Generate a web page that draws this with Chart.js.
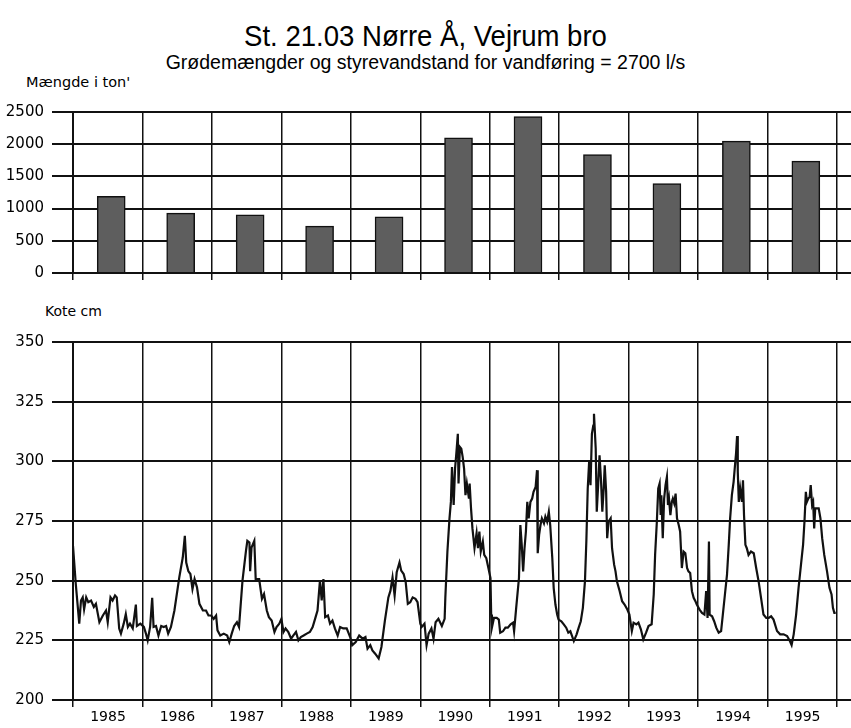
<!DOCTYPE html>
<html>
<head>
<meta charset="utf-8">
<script src="https://cdn.jsdelivr.net/npm/chart.js@4.4.1/dist/chart.umd.min.js"></script>
<style>
  body { margin: 0; background: #fff; width: 851px; height: 728px; position: relative; overflow: hidden; font-family: "Liberation Sans", Arial, sans-serif; color: #000; }
  .txt { position: absolute; white-space: nowrap; }
  #titel { top: 20px; left: 0; width: 851px; text-align: center; font-size: 29px; transform: scaleX(0.95); }
  #undertitel { top: 51px; left: 0; width: 851px; text-align: center; font-size: 19.5px; }
  #enhedTon { top: 74px; left: 26px; font: 14.5px "DejaVu Sans", sans-serif; }
  #enhedKote { top: 303px; left: 45px; font: 14px "DejaVu Sans", sans-serif; }
  canvas { position: absolute; left: 0; }
  #groede { top: 95px; }
  #kote { top: 325px; }
</style>
</head>
<body>
<div class="txt" id="titel">St. 21.03 Nørre Å, Vejrum bro</div>
<div class="txt" id="undertitel">Grødemængder og styrevandstand for vandføring = 2700 l/s</div>
<div class="txt" id="enhedTon">Mængde i ton'</div>
<div class="txt" id="enhedKote">Kote cm</div>
<canvas id="groede" width="851" height="195"></canvas>
<canvas id="kote" width="851" height="403"></canvas>
<script>
// --- DATA ---
const aar = [1985, 1986, 1987, 1988, 1989, 1990, 1991, 1992, 1993, 1994, 1995];
const groedeTon = [1190, 930, 905, 727, 873, 2099, 2429, 1840, 1387, 2048, 1738];
const tonTicks = [0, 500, 1000, 1500, 2000, 2500];
const koteTicks = [200, 225, 250, 275, 300, 325, 350];

// styrevandstand, aflæst fra kurven (decimal år / kote cm)
const koteAar = [
  1985.00,1985.04,1985.09,1985.115,1985.14,1985.16,1985.19,1985.22,1985.26,1985.30,1985.33,1985.38,1985.43,1985.475,1985.50,1985.54,1985.57,1985.605,1985.63,1985.665,1985.69,1985.73,1985.76,1985.79,1985.82,1985.86,1985.905,1985.92,1985.97,
  1986.02,1986.05,1986.075,1986.11,1986.14,1986.16,1986.195,1986.23,1986.27,1986.305,1986.34,1986.37,1986.41,1986.46,1986.53,1986.58,1986.61,1986.63,1986.66,1986.69,1986.72,1986.75,1986.785,1986.82,1986.87,1986.915,1986.95,1986.99,
  1987.025,1987.06,1987.08,1987.12,1987.17,1987.22,1987.25,1987.285,1987.32,1987.36,1987.39,1987.44,1987.49,1987.51,1987.54,1987.55,1987.57,1987.61,1987.63,1987.68,1987.72,1987.75,1987.79,1987.82,1987.86,1987.90,1987.93,1987.97,
  1988.00,1988.03,1988.06,1988.10,1988.14,1988.17,1988.21,1988.245,1988.28,1988.32,1988.365,1988.41,1988.45,1988.485,1988.52,1988.555,1988.58,1988.605,1988.63,1988.67,1988.70,1988.735,1988.77,1988.81,1988.845,1988.89,1988.94,1988.99,
  1989.02,1989.07,1989.12,1989.17,1989.21,1989.24,1989.28,1989.31,1989.35,1989.40,1989.44,1989.49,1989.54,1989.57,1989.60,1989.63,1989.66,1989.70,1989.725,1989.76,1989.79,1989.82,1989.855,1989.89,1989.93,1989.96,
  1990.00,1990.02,1990.06,1990.09,1990.12,1990.16,1990.19,1990.22,1990.26,1990.31,1990.35,1990.36,1990.39,1990.42,1990.44,1990.456,1990.48,1990.50,1990.52,1990.54,1990.55,1990.57,1990.59,1990.61,1990.63,1990.65,1990.67,1990.70,1990.71,1990.73,1990.75,1990.78,1990.81,1990.83,1990.85,1990.87,1990.90,1990.92,1990.95,1990.98,
  1991.01,1991.02,1991.03,1991.06,1991.10,1991.13,1991.15,1991.19,1991.225,1991.26,1991.30,1991.335,1991.35,1991.38,1991.42,1991.44,1991.46,1991.48,1991.50,1991.52,1991.54,1991.56,1991.585,1991.61,1991.63,1991.66,1991.68,1991.69,1991.71,1991.73,1991.75,1991.78,1991.80,1991.825,1991.85,1991.87,1991.90,1991.92,1991.945,1991.97,1991.99,
  1992.03,1992.065,1992.10,1992.13,1992.16,1992.21,1992.25,1992.28,1992.31,1992.34,1992.37,1992.39,1992.41,1992.43,1992.45,1992.47,1992.49,1992.50,1992.525,1992.54,1992.56,1992.58,1992.60,1992.62,1992.64,1992.655,1992.675,1992.69,1992.71,1992.74,1992.76,1992.79,1992.81,1992.83,1992.87,1992.905,1992.94,1992.98,
  1993.01,1993.045,1993.07,1993.11,1993.14,1993.175,1993.21,1993.25,1993.285,1993.33,1993.36,1993.38,1993.405,1993.425,1993.445,1993.46,1993.47,1993.49,1993.51,1993.53,1993.55,1993.565,1993.58,1993.60,1993.62,1993.635,1993.655,1993.675,1993.695,1993.72,1993.74,1993.765,1993.79,1993.815,1993.84,1993.86,1993.885,1993.91,1993.935,1993.96,1993.98,
  1994.02,1994.055,1994.09,1994.115,1994.135,1994.155,1994.165,1994.20,1994.23,1994.26,1994.295,1994.33,1994.355,1994.385,1994.415,1994.44,1994.46,1994.485,1994.51,1994.53,1994.545,1994.56,1994.57,1994.585,1994.605,1994.63,1994.645,1994.66,1994.68,1994.70,1994.725,1994.76,1994.80,1994.835,1994.87,1994.905,1994.94,1994.98,
  1995.015,1995.05,1995.085,1995.135,1995.18,1995.23,1995.28,1995.32,1995.345,1995.375,1995.41,1995.445,1995.48,1995.51,1995.53,1995.55,1995.565,1995.585,1995.605,1995.62,1995.64,1995.655,1995.67,1995.685,1995.71,1995.735,1995.76,1995.785,1995.815,1995.855,1995.89,1995.92,1995.94,1995.96,1995.98
];
const koteCm = [
  264.6,248.6,232,241.7,243,238,243,241,241.7,239,240.3,232.6,235.4,237.5,232.6,243,241.7,243.8,243,229.9,227.8,232,236,230.6,232,230,240,231,232,
  230.6,227.8,225,230.6,242.8,230.6,231,227,231,230.6,231,227.8,230.6,237.5,251.4,259.7,268.8,257.6,254,252.8,246.5,250.7,247.2,240.3,237.5,237.5,235.4,235.4,
  234,235.4,229.2,227,227.8,227,224.3,227.8,231,232.6,230.6,250,262.5,266.7,266,254,263.9,266.7,250.7,250.7,242.4,244.4,237.5,234.7,233.3,228.5,230.6,232,
  234,228.5,230,228.5,225.7,227,228.5,225,226.4,227,227.8,228.5,230.6,234,237.5,250,241.7,250.7,234.7,235.4,232,233.3,230,227,230.6,230,230,226.4,
  223,224.3,227,225.7,226.4,221.5,223,220.8,219.4,217.4,222.2,233.3,243,245.8,251.4,243.8,253.5,257.6,254.2,252.8,249.3,240.3,241,243,242.4,241,
  232,230.6,232,223,227.8,230,225.7,232.6,234,231,234,242.8,262.2,276.1,283,297.6,281.7,297,303.9,311.5,290.7,306,305.3,301.8,297,285.8,290.7,284.4,290.7,280.3,272,263.6,269.9,263.6,270.6,262.2,266.4,260.8,259.4,255.3,
  251.1,235.8,230.3,234.4,234.4,233.7,228.2,228.8,230.3,230.3,231.7,232.4,228.8,238.6,251.1,273.3,265,253.9,263.6,270.6,283,276.1,283,284.4,287.2,289.3,296.3,261.5,269.2,273.3,276.1,274,276.8,274.7,278.9,273.3,259.4,246.9,240,235.8,233.7,
  233,231.7,230.3,228.2,228.8,224.7,227.5,230.3,233,238.6,249.7,266.4,288.6,299.7,290,311.5,315,319.9,305.3,278.9,290,302.5,292.8,278.9,288.6,298.3,287.2,267.8,274.7,276.1,263.6,256.7,253.9,249.7,245.6,241.4,240,237.9,
  235.8,228.9,232.4,231.7,232.4,229.6,225.4,228.2,231,231.7,244.2,260.8,274.7,288.6,290.7,277.5,285.8,267.8,284.4,290,293.5,281.7,284.4,277.5,283,284.4,282.4,286.5,276.1,273.3,270.6,255.3,262.2,261.5,255.3,253.9,253.2,245.6,242.8,241.4,240,
  237.9,236.5,235.8,245.6,234.4,266.4,235.8,235.1,233,230.3,228.2,228.9,235.8,244.2,252.5,265,276.1,285.8,291.4,298.3,303.2,310.6,295.6,283,288.6,283,292.1,277.5,265,263.6,260.8,262.2,261.5,255.3,249.7,242.8,235.8,234.4,
  234.4,235.1,233.7,228.9,227.5,227.5,226.8,224.7,223,227.5,235.8,247,256.7,265,274.7,287.2,283,284.4,285.1,290,281.7,283,271.9,280.3,280.3,280.3,276.1,267.8,260.8,253.9,247,244.2,238.6,236.5,236.5
];

// --- FÆLLES OPSÆTNING ---
Chart.defaults.font.family = '"DejaVu Sans", sans-serif';
Chart.defaults.font.size = 15;
Chart.defaults.color = '#000';
Chart.defaults.animation = false;

const foersteAar = aar[0];
const sidsteGraense = aar[aar.length - 1] + 1;
const aarGraenser = aar.concat([sidsteGraense]);
const LINJE = '#111';

function xAkse(visLabels, hoejde) {
  return {
    type: 'linear',
    offset: false,
    min: foersteAar,
    max: sidsteGraense + 0.2,   // vandrette linjer fortsætter til højre kant
    afterBuildTicks: s => { s.ticks = aarGraenser.map(v => ({ value: v })); },
    afterFit: s => { s.height = hoejde; },
    grid: { offset: false, color: LINJE, lineWidth: 1.5, tickLength: 7, tickColor: LINJE },
    border: { color: LINJE, width: 2 },
    ticks: {
      display: visLabels,
      font: { size: 14 },
      padding: 2,
      maxRotation: 0,
      autoSkip: false,
      labelOffset: 35,
      callback: v => (v < sidsteGraense ? String(v) : '')
    }
  };
}

function yAkse(tickListe) {
  return {
    min: tickListe[0],
    max: tickListe[tickListe.length - 1],
    afterBuildTicks: s => { s.ticks = tickListe.map(v => ({ value: v })); },
    afterFit: s => { s.width = 73; },
    grid: { color: LINJE, lineWidth: 2, tickLength: 21, tickColor: LINJE },
    border: { color: LINJE, width: 2 },
    ticks: { padding: 8, callback: v => String(v) }
  };
}

// --- A. GRØDEMÆNGDER (søjler) ---
new Chart(document.getElementById('groede'), {
  type: 'bar',
  data: {
    datasets: [{
      data: aar.map((a, i) => ({ x: a + 0.55, y: groedeTon[i] })),
      backgroundColor: '#5e5e5e',
      borderColor: '#111',
      borderWidth: 1.5,
      barThickness: 28
    }]
  },
  options: {
    responsive: false,
    devicePixelRatio: 1,
    layout: { padding: { top: 14, left: 0, right: 0, bottom: 0 } },
    plugins: { legend: { display: false }, tooltip: { enabled: false } },
    scales: { x: xAkse(false, 17), y: yAkse(tonTicks) }
  }
});

// --- B. STYREVANDSTAND (kurve) ---
new Chart(document.getElementById('kote'), {
  type: 'line',
  data: {
    datasets: [{
      data: koteAar.map((t, i) => ({ x: t, y: koteCm[i] })),
      borderColor: '#111',
      borderWidth: 2.2,
      pointRadius: 0,
      tension: 0
    }]
  },
  options: {
    responsive: false,
    devicePixelRatio: 1,
    layout: { padding: { top: 13, left: 0, right: 0, bottom: 0 } },
    plugins: { legend: { display: false }, tooltip: { enabled: false } },
    scales: { x: xAkse(true, 28), y: yAkse(koteTicks) }
  }
});
</script>
</body>
</html>
